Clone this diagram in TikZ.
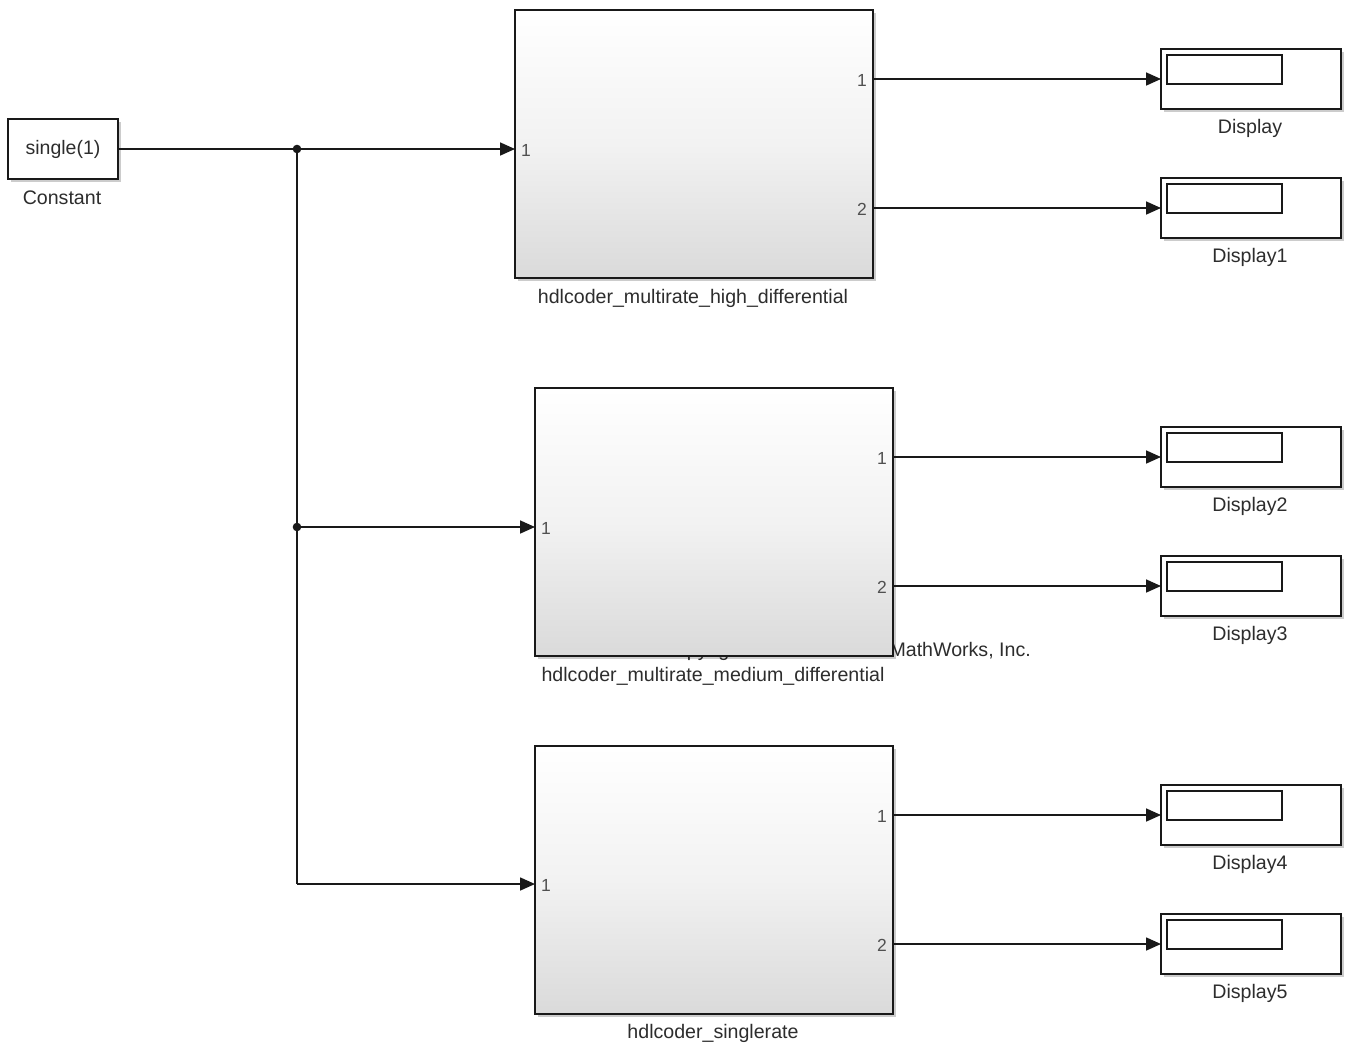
\documentclass[tikz,border=0pt]{standalone}
\usepackage{fontspec}
\setmainfont{Liberation Sans}
\usetikzlibrary{arrows.meta,shadows}
\definecolor{wirec}{RGB}{25,25,25}
\definecolor{lblc}{RGB}{45,45,45}
\definecolor{portc}{RGB}{80,80,80}
\definecolor{blockbot}{RGB}{218,218,218}
\definecolor{blockmid}{RGB}{242,242,242}
\begin{document}
\begin{tikzpicture}[x=1pt,y=-1pt,
  wire/.style={line width=1.7pt, draw=wirec},
  arr/.style={wire,-{Triangle[length=15pt,width=13pt]}},
  shad/.style={drop shadow={shadow xshift=2.5pt,shadow yshift=-2.5pt,fill=black,opacity=0.2}},
  subsys/.style={draw=wirec, line width=1.7pt, top color=white, bottom color=blockbot, middle color=blockmid,
    anchor=north west, minimum width=358pt, minimum height=268pt, inner sep=0pt, outer sep=0pt, shad},
  dispbox/.style={draw=wirec, line width=1.7pt, fill=white, minimum width=180pt, minimum height=60pt,
    inner sep=0pt, outer sep=0pt, shad},
  constbox/.style={draw=wirec, line width=1.7pt, fill=white, minimum width=110pt, minimum height=60pt,
    inner sep=0pt, outer sep=0pt, shad, text=lblc, font=\fontsize{19.5}{23}\selectfont},
  lbl/.style={text=lblc, font=\fontsize{19.6}{23}\selectfont, inner sep=0pt},
  port/.style={text=portc, font=\fontsize{17.5}{20}\selectfont, inner sep=0pt},
  inner/.style={draw=wirec, line width=1.5pt}
]
\useasboundingbox (0,0) rectangle (1346,1042);
\fill[white] (0,0) rectangle (1346,1042);

% copyright text, mostly covered by block 2
\node[lbl, anchor=base east] (copy) at (1031,656) {Copyright 2013-2016 The MathWorks, Inc.};

% Constant
\node[constbox] (const) at (63,149) {single(1)};
\node[lbl] (constl) at (62,198) {Constant};

% Subsystems
\node[subsys] (b1) at (515,10) {};
\node[subsys] (b2) at (535,388) {};
\node[subsys] (b3) at (535,746) {};
\node[lbl] (b1l) at (693,298) {hdlcoder\_multirate\_high\_differential};
\node[lbl] (b2l) at (713,676) {hdlcoder\_multirate\_medium\_differential};
\node[lbl] (b3l) at (713,1033) {hdlcoder\_singlerate};

% Displays
\foreach \n/\y/\t in {d0/79/Display, d1/208/Display1, d2/457/Display2, d3/586/Display3, d4/815/Display4, d5/944/Display5}{
  \node[dispbox] (\n) at (1251,\y) {};
  \draw[inner] ([shift={(6,6)}]\n.north west) rectangle ([shift={(121,35)}]\n.north west);
  \node[lbl] (\n l) at (1250,\y+49) {\t};
}

% junctions
\coordinate (j1) at (297,149);
\coordinate (j2) at (297,527);
\coordinate (j3) at (297,884);

% wires
\draw[wire] (const.east) -- (j1);
\draw[arr] (j1) -- (j1 -| b1.west);
\draw[wire] (j1) -- (j3);
\draw[arr] (j2) -- (j2 -| b2.west);
\draw[arr] (j3) -- (j3 -| b3.west);
\fill[wirec] (j1) circle (4.3pt);
\fill[wirec] (j2) circle (4.3pt);

\draw[arr] (d0.west -| b1.east) -- (d0.west);
\draw[arr] (d1.west -| b1.east) -- (d1.west);
\draw[arr] (d2.west -| b2.east) -- (d2.west);
\draw[arr] (d3.west -| b2.east) -- (d3.west);
\draw[arr] (d4.west -| b3.east) -- (d4.west);
\draw[arr] (d5.west -| b3.east) -- (d5.west);

% port labels
\node[port] (b1i1) at (526,150) {1};
\node[port] (b1o1) at (862,80) {1};
\node[port] (b1o2) at (862,209) {2};
\node[port] (b2i1) at (546,528) {1};
\node[port] (b2o1) at (882,458) {1};
\node[port] (b2o2) at (882,587) {2};
\node[port] (b3i1) at (546,885) {1};
\node[port] (b3o1) at (882,816) {1};
\node[port] (b3o2) at (882,945) {2};
\end{tikzpicture}
\end{document}
